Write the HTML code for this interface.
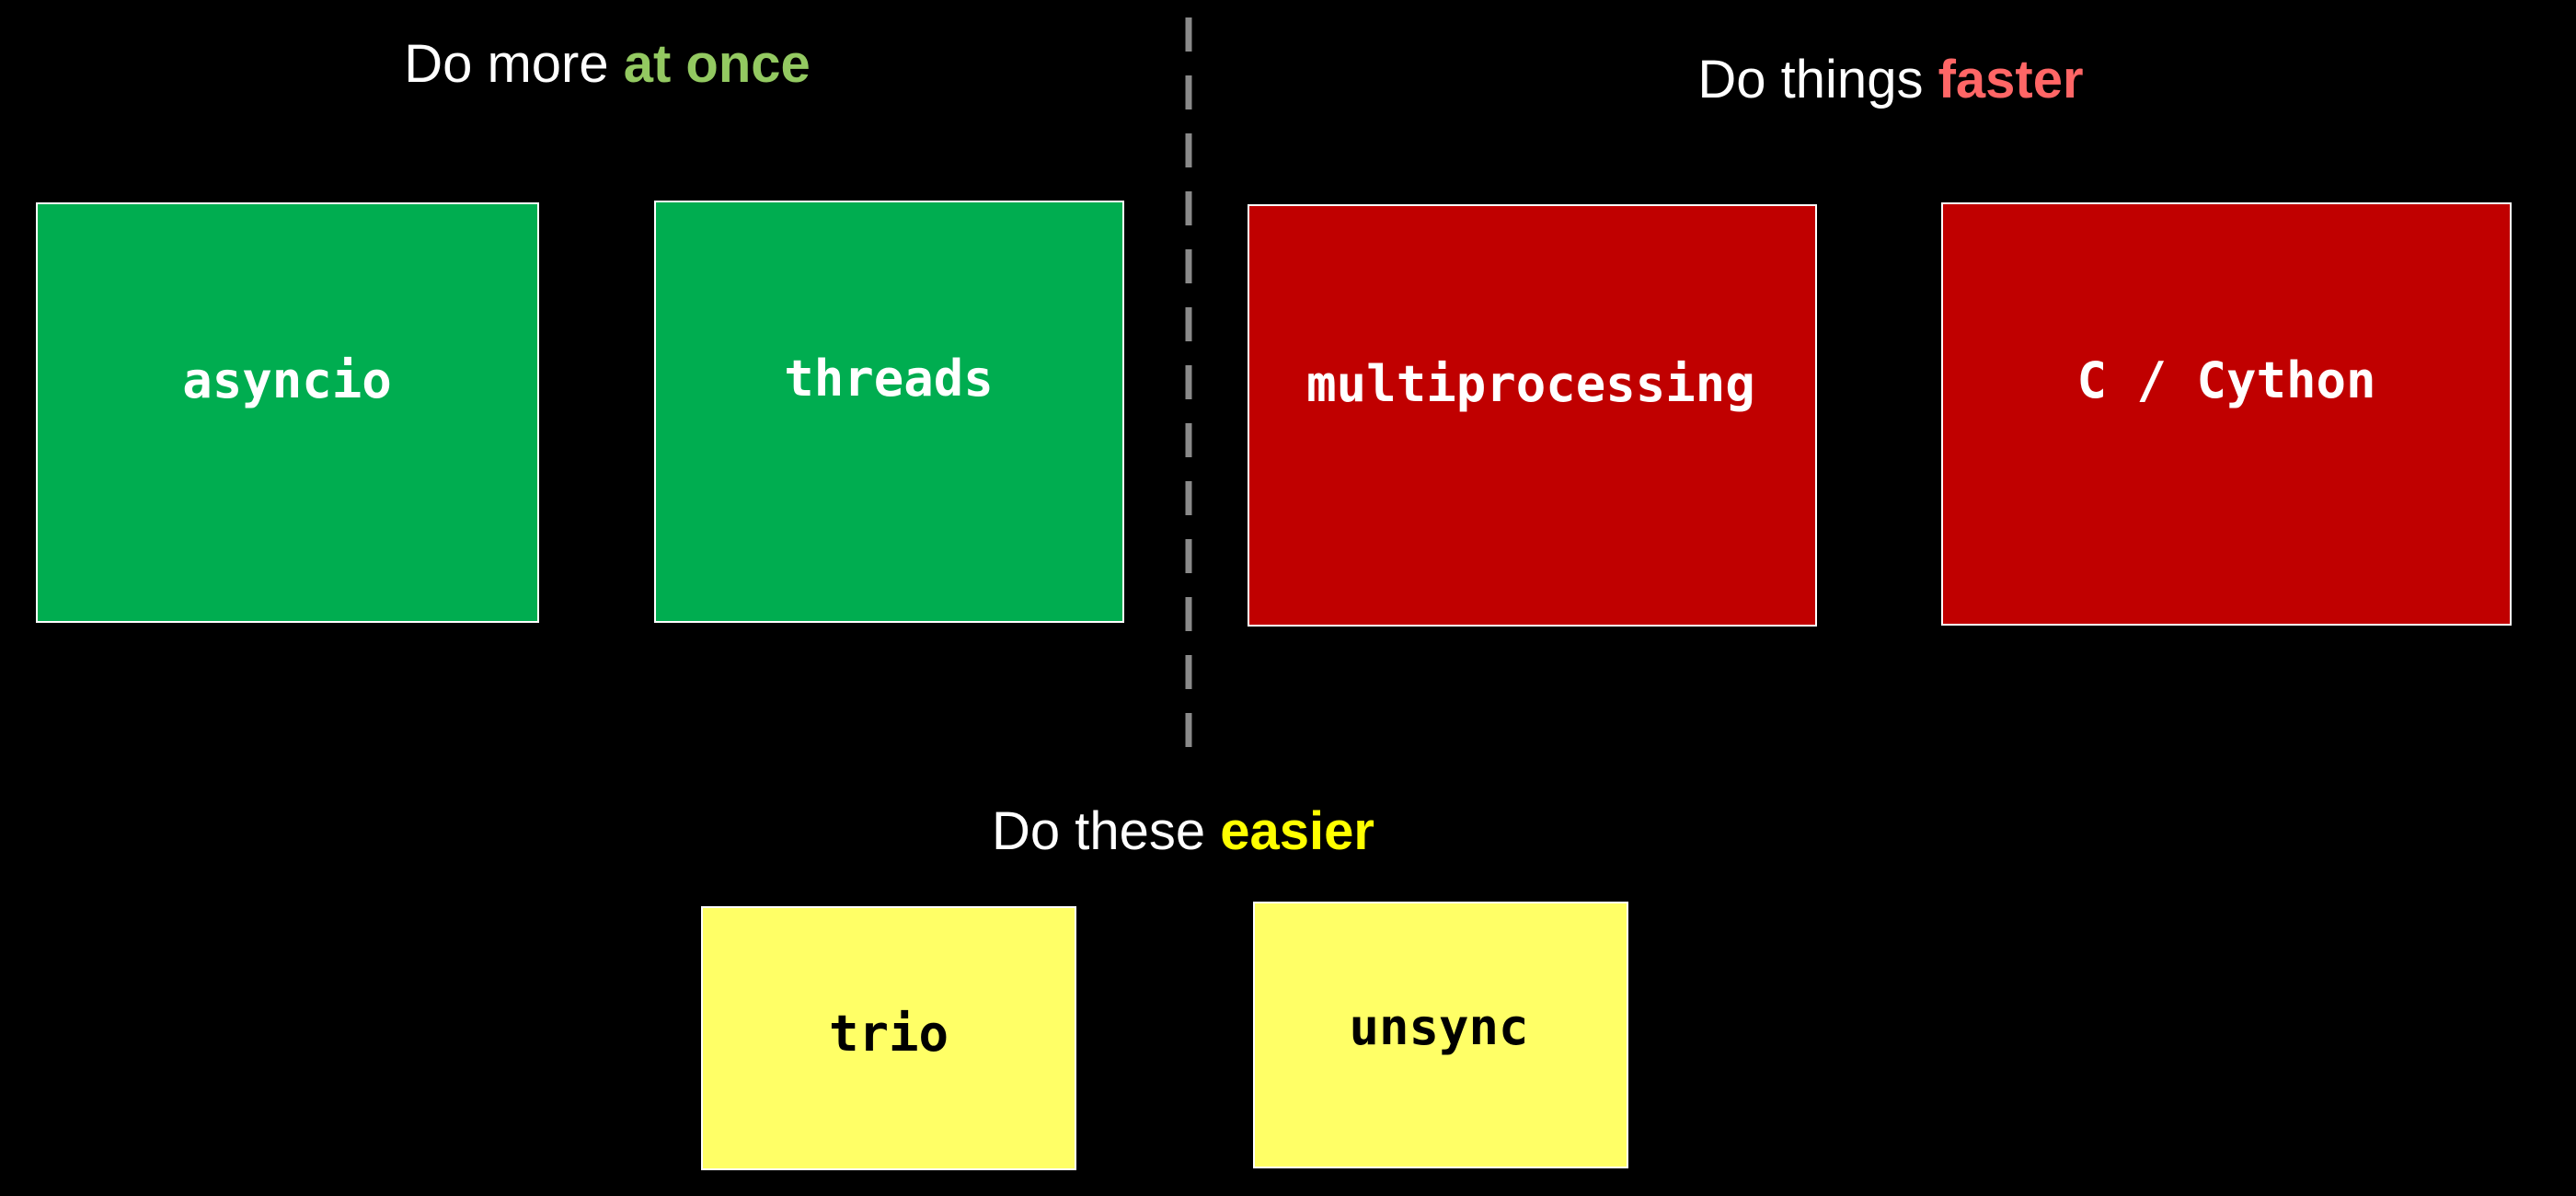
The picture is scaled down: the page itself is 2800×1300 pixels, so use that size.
<!DOCTYPE html>
<html><head><meta charset="utf-8"><style>
html,body{margin:0;padding:0;background:#000;}
svg{display:block}
.t{font-family:"Liberation Sans",sans-serif;font-size:58px;fill:#fff}
.m{font-family:"DejaVu Sans Mono","Liberation Mono",monospace;font-weight:bold;font-size:54px}
</style></head><body>
<svg width="2800" height="1300" viewBox="0 0 2800 1300" xmlns="http://www.w3.org/2000/svg">
<rect width="2800" height="1300" fill="#000"/>
<line x1="1292" y1="19" x2="1292" y2="818" stroke="#8a8a8a" stroke-width="7" stroke-dasharray="37,26"/>
<text class="t" x="660" y="89" text-anchor="middle">Do more <tspan font-weight="bold" fill="#93c961">at once</tspan></text>
<text class="t" x="2055" y="106" text-anchor="middle">Do things <tspan font-weight="bold" fill="#ff6666">faster</tspan></text>
<text class="t" x="1286" y="923" text-anchor="middle">Do these <tspan font-weight="bold" fill="#ffff00">easier</tspan></text>
<rect x="40" y="221" width="545" height="455" fill="#00ad50" stroke="#fff" stroke-width="2"/>
<rect x="712" y="219" width="509" height="457" fill="#00ad50" stroke="#fff" stroke-width="2"/>
<rect x="1357" y="223" width="617" height="457" fill="#c00000" stroke="#fff" stroke-width="2"/>
<rect x="2111" y="221" width="618" height="458" fill="#c00000" stroke="#fff" stroke-width="2"/>
<rect x="763" y="986" width="406" height="285" fill="#ffff66" stroke="#fff" stroke-width="2"/>
<rect x="1363" y="981" width="406" height="288" fill="#ffff66" stroke="#fff" stroke-width="2"/>
<text class="m" x="312" y="432" text-anchor="middle" fill="#fff">asyncio</text>
<text class="m" x="966" y="430" text-anchor="middle" fill="#fff">threads</text>
<text class="m" x="1664" y="436" text-anchor="middle" fill="#fff" font-size="55">multiprocessing</text>
<text class="m" x="2420" y="432" text-anchor="middle" fill="#fff">C / Cython</text>
<text class="m" x="966" y="1142" text-anchor="middle" fill="#000">trio</text>
<text class="m" x="1564" y="1135" text-anchor="middle" fill="#000">unsync</text>
</svg>
</body></html>
